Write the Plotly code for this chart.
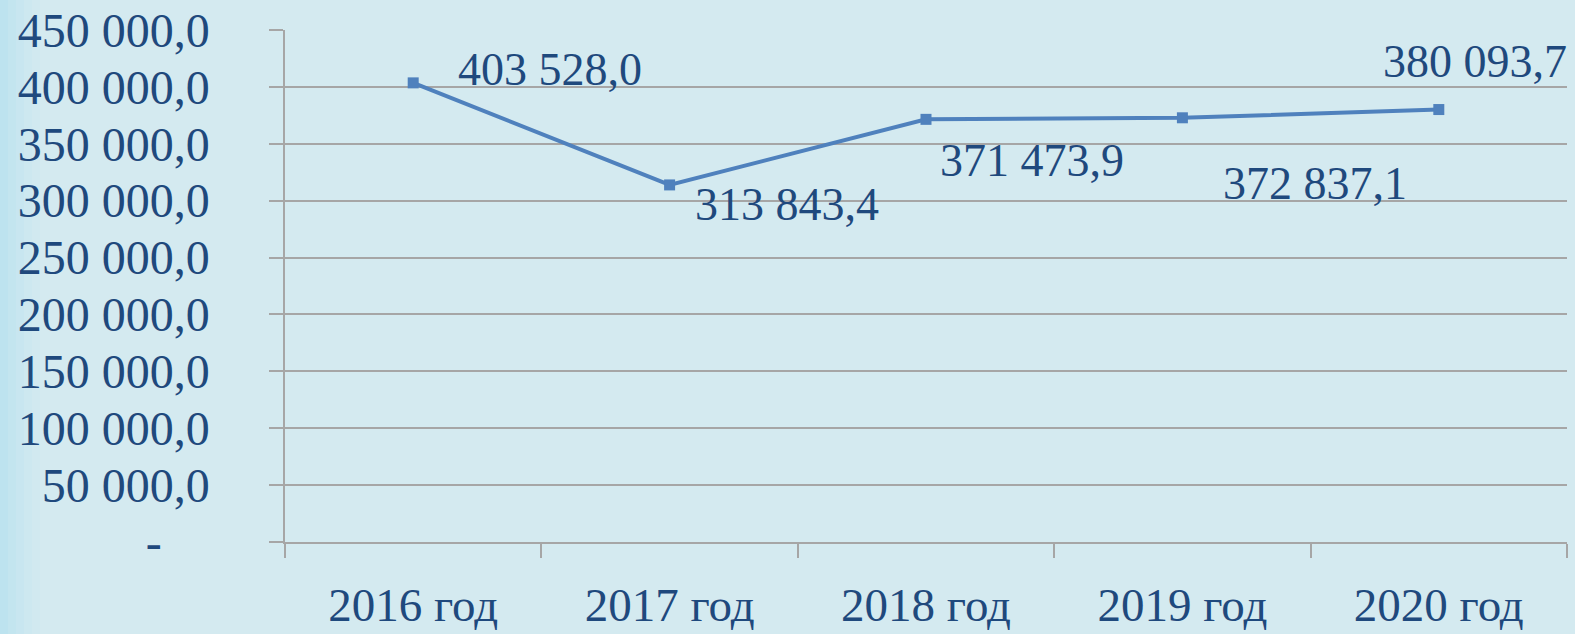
import plotly.graph_objects as go

categories = ["2016 год", "2017 год", "2018 год", "2019 год", "2020 год"]
values = [403528.0, 313843.4, 371473.9, 372837.1, 380093.7]
value_labels = ["403 528,0", "313 843,4", "371 473,9", "372 837,1", "380 093,7"]
y_tickvals = [0, 50000, 100000, 150000, 200000, 250000, 300000, 350000, 400000, 450000]
y_ticktext = ["-\u00a0\u00a0\u00a0\u00a0", "50 000,0", "100 000,0", "150 000,0", "200 000,0",
              "250 000,0", "300 000,0", "350 000,0", "400 000,0", "450 000,0"]
# label offsets (px) relative to each point
label_dx = [43, 23, 12, 39, -58]
label_dy = [13, -20, -41, -66, 48]

TEXT = "#1f497d"
LINE = "#4f81bd"
GRID = "#a6a6a6"
FONT = "Liberation Serif"

fig = go.Figure()
fig.add_trace(go.Scatter(
    x=categories, y=values, mode="lines+markers",
    line=dict(color=LINE, width=4),
    marker=dict(symbol="square", size=11, color=LINE),
    hoverinfo="skip", showlegend=False,
))

for c, v, t, dx, dy in zip(categories, values, value_labels, label_dx, label_dy):
    fig.add_annotation(x=c, y=v, text=t, showarrow=False, xanchor="left", yanchor="middle",
                       xshift=dx, yshift=dy, font=dict(family=FONT, size=46, color=TEXT))

# left-edge gradient strips
strips = [("#bde3ef", 0, 8), ("#c3e5ef", 8, 16), ("#c8e6f0", 16, 24), ("#cde8f0", 24, 32),
          ("#d1e9f0", 32, 40)]
for col, x0, x1 in strips:
    fig.add_shape(type="rect", xref="paper", yref="paper", x0=(x0 - 285) / 1282, x1=(x1 - 285) / 1282,
                  y0=-92 / 512, y1=(512 + 30) / 512, fillcolor=col, line=dict(width=0), layer="below")

fig.update_layout(
    width=1575, height=634,
    margin=dict(l=285, r=8, t=30, b=92),
    paper_bgcolor="#d4eaf0", plot_bgcolor="#d4eaf0",
    font=dict(family=FONT, size=46, color=TEXT),
)
fig.update_xaxes(
    type="category", showgrid=False, showline=True, linecolor=GRID, linewidth=2,
    ticks="outside", ticklen=14, tickcolor=GRID, tickwidth=1.5,
    tickson="boundaries", ticklabelstandoff=21, automargin=False,
    tickfont=dict(family=FONT, size=47, color=TEXT), range=[-0.5, 4.5],
)
fig.update_yaxes(
    range=[0, 450000], tickvals=y_tickvals, ticktext=y_ticktext,
    showgrid=True, gridcolor=GRID, gridwidth=2,
    showline=True, linecolor=GRID, linewidth=1.5,
    ticks="outside", ticklen=14, tickcolor=GRID, tickwidth=2,
    ticklabelstandoff=50, zeroline=False, automargin=False,
    tickfont=dict(family=FONT, size=48, color=TEXT),
)

fig.write_html("out.html", config={"displayModeBar": False},
               post_script="document.body.style.margin='0';document.body.style.overflow='hidden';")
